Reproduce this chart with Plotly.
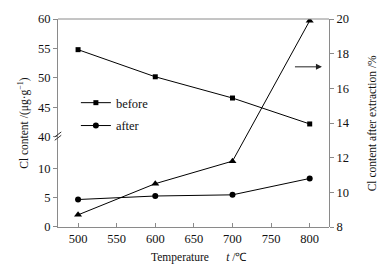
import plotly.graph_objects as go

temps = [500, 600, 700, 800]
before = [54.8, 50.2, 46.6, 42.2]
after = [4.7, 5.3, 5.5, 8.3]
extraction = [8.7, 10.5, 11.8, 19.9]

x_ticks = [500, 550, 600, 650, 700, 750, 800]
low_ticks = [0, 5, 10]
high_ticks = [40, 45, 50, 55, 60]
right_ticks = [8, 10, 12, 14, 16, 18, 20]

FONT = "Liberation Serif"
AX = "#8a8a8a"
BRK = 0.433

fig = go.Figure()
fig.add_trace(go.Scatter(x=temps, y=before, mode="lines+markers", name="before",
                         xaxis="x", yaxis="y3", legend="legend",
                         line=dict(color="black", width=1),
                         marker=dict(symbol="square", size=5, color="black")))
fig.add_trace(go.Scatter(x=temps, y=after, mode="lines+markers", name="after",
                         xaxis="x", yaxis="y", legend="legend2",
                         line=dict(color="black", width=1),
                         marker=dict(symbol="circle", size=6, color="black")))
fig.add_trace(go.Scatter(x=temps, y=extraction, mode="lines+markers", name="extraction",
                         xaxis="x", yaxis="y2", showlegend=False,
                         line=dict(color="black", width=1),
                         marker=dict(symbol="triangle-up", size=7, color="black")))

tickfont = dict(family=FONT, size=12.5, color="#111")
fig.update_layout(
    width=387, height=267,
    margin=dict(l=58, r=58, t=19, b=40),
    paper_bgcolor="white", plot_bgcolor="rgba(0,0,0,0)",
    font=dict(family=FONT, size=12, color="#111"),
    xaxis=dict(range=[474, 825], tickvals=x_ticks, ticks="inside", ticklen=4,
               tickcolor=AX, showline=True, linecolor=AX, linewidth=1,
               showgrid=False, zeroline=False, tickfont=tickfont, anchor="y"),
    yaxis=dict(domain=[0, BRK], range=[0, 15.4], tickvals=low_ticks, ticks="outside",
               ticklen=4, tickcolor=AX, showline=True, linecolor=AX, linewidth=1,
               showgrid=False, zeroline=False, tickfont=tickfont, anchor="x"),
    yaxis3=dict(domain=[BRK, 1], range=[40, 60], tickvals=high_ticks, ticks="outside",
                ticklen=4, tickcolor=AX, showline=True, linecolor=AX, linewidth=1,
                showgrid=False, zeroline=False, tickfont=tickfont, anchor="x"),
    yaxis2=dict(domain=[0, 1], range=[8, 20], tickvals=right_ticks, ticks="outside",
                ticklen=4, tickcolor=AX, showline=True, linecolor=AX, linewidth=1,
                showgrid=False, zeroline=False, tickfont=tickfont, anchor="x",
                side="right"),
    legend=dict(x=0.066, y=0.596, xanchor="left", yanchor="middle",
                bgcolor="rgba(0,0,0,0)", font=dict(family=FONT, size=12.5)),
    legend2=dict(x=0.066, y=0.486, xanchor="left", yanchor="middle",
                 bgcolor="rgba(0,0,0,0)", font=dict(family=FONT, size=12.5)),
    showlegend=True,
)

# top border
fig.add_shape(type="line", xref="paper", yref="paper", x0=0, x1=1, y0=1, y1=1,
              line=dict(color=AX, width=1))
# axis break mark
for dy in (-0.004, 0.012):
    fig.add_shape(type="line", xref="paper", yref="paper",
                  x0=-0.012, x1=0.012, y0=BRK - 0.012 + dy, y1=BRK + 0.012 + dy,
                  line=dict(color="#333", width=1))

# axis titles
fig.add_annotation(text="Cl content /(μg·g<sup>−1</sup>)", xref="paper", yref="paper",
                   x=-0.13, y=0.5, textangle=-90, showarrow=False,
                   xanchor="center", yanchor="middle", font=dict(family=FONT, size=11.5))
fig.add_annotation(text="Cl content after extraction /%", xref="paper", yref="paper",
                   x=1.16, y=0.5, textangle=-90, showarrow=False,
                   xanchor="center", yanchor="middle", font=dict(family=FONT, size=11.5))
fig.add_annotation(text="Temperature&nbsp;&nbsp;&nbsp;&nbsp;&nbsp;&nbsp;<i>t</i> /℃",
                   xref="paper", yref="paper", x=0.52, y=-0.145, showarrow=False,
                   xanchor="center", yanchor="middle", font=dict(family=FONT, size=11.5))
# arrow pointing to right axis
fig.add_annotation(xref="paper", yref="paper", x=0.974, y=0.77, ax=-30, ay=0,
                   showarrow=True, arrowhead=2, arrowsize=1.2, arrowwidth=1,
                   arrowcolor="#222", text=" ")

fig.write_html("out.html", config={"displayModeBar": False},
               post_script="document.body.style.margin='0';document.body.style.overflow='hidden';")
